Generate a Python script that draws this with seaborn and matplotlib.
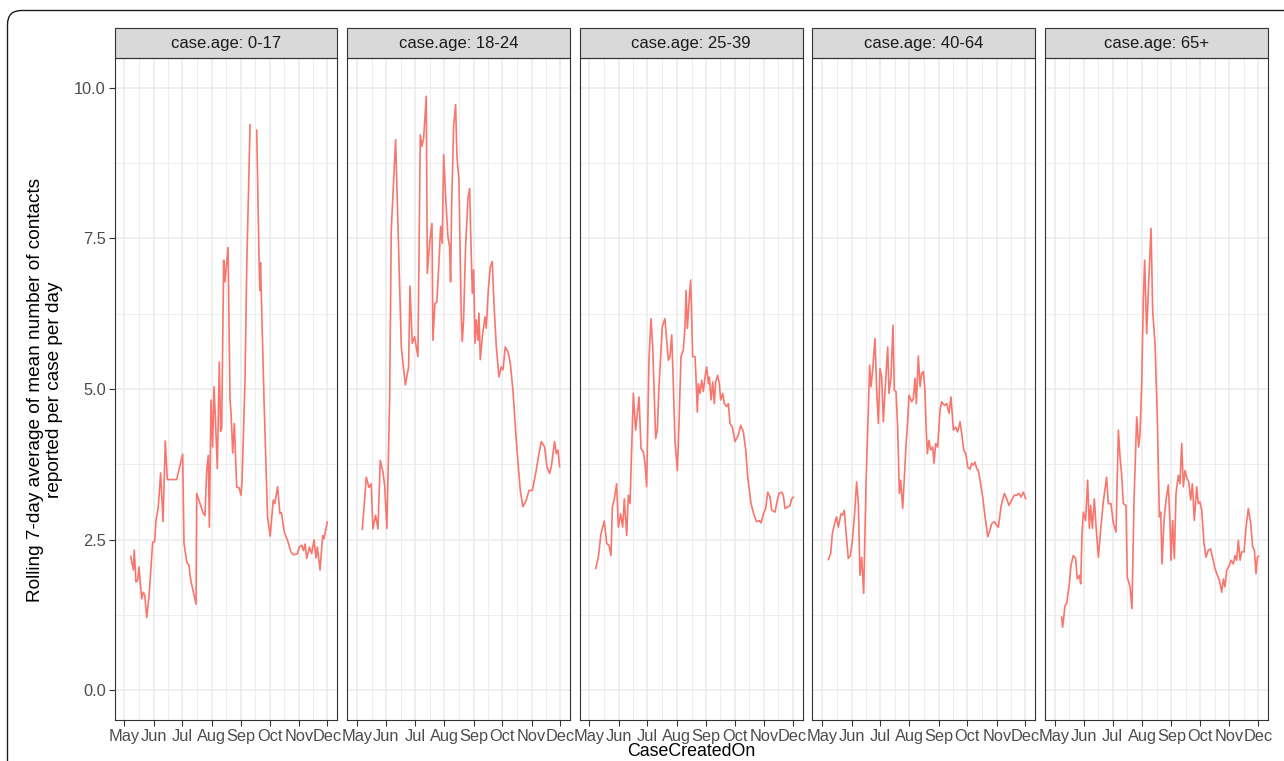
import matplotlib
matplotlib.use("Agg")
import matplotlib.pyplot as plt
import matplotlib.dates as mdates
from matplotlib.patches import Rectangle, FancyBboxPatch
from matplotlib.transforms import IdentityTransform
import numpy as np
import pandas as pd
import seaborn as sns

sns.set_theme(style="white")
plt.rcParams['font.family'] = ['Liberation Sans', 'DejaVu Sans']

# data: day offset from 1 May 2020 and rolling mean value
start = pd.Timestamp("2020-05-01")
groups = ["0-17", "18-24", "25-39", "40-64", "65+"]

days_0_17 = [6.7, 9.5, 10.5, 12.3, 14.1, 15.5, 18.3, 20.0, 21.6, 23.6, 26.0, 29.9, 32.0, 33.4,
             35.8, 38.3, 40.8, 43.2, 45.3, 55.2, 61.5, 62.9, 65.8, 68.0, 70.0, 75.6, 76.3, 83.2,
             85.0, 86.8, 88.5, 89.6, 91.4, 93.1, 94.5, 96.0, 98.0, 100.1, 101.5, 102.6, 104.7,
             106.0, 109.3, 111.4, 112.5, 114.2, 115.9, 118.4, 121.0, 123.0, 124.0, 127.2, 129.0,
             132.5, 136.0, 139.5, 142.0, 142.8, 143.5, 147.2, 150.9, 153.7, 156.9, 158.5, 161.5,
             163.9, 165.5, 168.5, 172.0, 175.5, 178.3, 182.5, 184.2, 187.0, 188.8, 190.5, 192.2,
             195.0, 197.4, 199.9, 202.0, 203.4, 206.2, 209.0, 210.4, 213.9]
vals_0_17 = [2.23, 2.00, 2.33, 1.80, 1.83, 2.05, 1.52, 1.63, 1.58, 1.21, 1.55, 2.46, 2.47, 2.82,
             3.05, 3.61, 2.80, 4.14, 3.50, 3.50, 3.92, 2.44, 2.13, 2.08, 1.83, 1.43, 3.27, 2.94,
             2.90, 3.65, 3.90, 2.71, 4.82, 4.04, 5.04, 4.50, 3.68, 5.45, 4.30, 4.35, 7.14,
             6.78, 7.35, 4.82, 4.60, 3.94, 4.43, 3.38, 3.36, 3.24, 3.45, 5.15, 7.03,
             9.39, np.nan, 9.30, 7.14, 6.64, 7.10, 4.82, 2.88, 2.56, 3.16, 3.10, 3.38,
             2.94, 2.95, 2.63, 2.49, 2.30, 2.25, 2.27, 2.38, 2.41, 2.32, 2.43, 2.19,
             2.38, 2.27, 2.50, 2.20, 2.38, 2.00, 2.57, 2.52, 2.80]

days_18_24 = [5.7, 9.9, 12.7, 15.1, 16.9, 19.7, 22.2, 24.6, 27.4, 29.2, 31.6, 34.5, 36.2, 40.8,
              46.8, 51.0, 54.5, 55.9, 58.3, 60.8, 64.3, 66.8, 68.5, 70.3, 73.1, 74.2, 76.6, 79.1,
              80.1, 82.2, 84.3, 87.1, 88.2, 89.9, 91.4, 93.5, 95.9, 97.7, 98.7, 99.8, 101.9,
              104.0, 105.4, 107.5, 110.0, 111.0, 112.4, 114.5, 117.0, 118.8, 119.8, 121.6, 123.0,
              124.4, 125.8, 127.5, 128.6, 130.0, 132.1, 134.9, 136.3, 138.4, 140.5, 142.6, 144.4,
              146.9, 149.7, 152.1, 153.9, 156.3, 159.2, 161.6, 164.4, 167.9, 172.1, 174.9, 178.5,
              181.3, 184.8, 188.3, 191.8, 194.3, 197.8, 200.2, 203.0, 204.8, 206.6, 208.3, 210.1,
              211.8, 213.6]
vals_18_24 = [2.67, 3.54, 3.37, 3.43, 2.68, 2.91, 2.68, 3.82, 3.63, 3.41, 2.69, 4.82, 7.64, 9.14,
              5.70, 5.07, 5.37, 6.71, 5.76, 5.87, 5.54, 9.22, 9.03, 9.16, 9.86, 6.92, 7.42, 7.75,
              5.81, 6.42, 6.45, 7.31, 7.70, 7.42, 8.89, 8.19, 7.53, 7.36, 6.78, 8.03, 9.36,
              9.72, 8.86, 8.47, 6.20, 5.79, 6.15, 7.36, 8.17, 8.33, 7.64, 6.59, 6.98,
              5.76, 6.15, 5.81, 6.26, 5.49, 5.87, 6.20, 6.01, 6.64, 7.03, 7.12, 6.42,
              5.70, 5.20, 5.37, 5.32, 5.70, 5.62, 5.43, 4.98, 4.15, 3.32, 3.05, 3.16,
              3.32, 3.32, 3.60, 3.93, 4.13, 4.04, 3.71, 3.60, 3.71, 3.93, 4.13, 3.93,
              3.99, 3.71]

days_25_39 = [6.5, 9.3, 12.1, 15.6, 18.1, 20.5, 22.7, 24.1, 26.2, 28.6, 30.4, 32.8, 35.0, 36.7,
              39.2, 40.9, 42.7, 46.2, 48.6, 50.4, 52.2, 54.3, 56.7, 58.5, 60.2, 62.7, 64.8, 66.6,
              68.3, 69.7, 71.5, 73.2, 76.7, 79.5, 81.3, 83.1, 84.8, 86.6, 88.3, 90.1, 92.6, 94.3,
              96.4, 98.9, 100.6, 101.7, 103.1, 105.2, 106.6, 107.7, 108.7, 111.2, 112.2, 113.6,
              114.7, 116.4, 118.2, 119.9, 121.7, 123.5, 125.2, 126.3, 128.0, 129.8, 131.5, 132.9,
              135.0, 136.8, 138.2, 140.3, 142.1, 144.5, 146.3, 148.0, 150.5, 153.3, 156.8, 159.3,
              162.1, 164.6, 166.7, 170.2, 173.3, 176.1, 178.9, 180.7, 183.2, 185.6, 187.7, 190.2,
              192.0, 195.5, 197.9, 199.7, 202.5, 204.2, 206.0, 209.5, 211.3, 213.0, 214.8]
vals_25_39 = [2.02, 2.21, 2.60, 2.81, 2.44, 2.41, 2.24, 3.05, 3.18, 3.43, 2.71, 2.93, 2.71, 3.18,
              2.57, 3.24, 3.10, 4.93, 4.32, 4.60, 4.87, 4.01, 3.96, 3.77, 3.38, 5.51, 6.17, 5.70,
              4.87, 4.18, 4.32, 5.04, 6.04, 6.17, 5.81, 5.48, 5.54, 5.90, 5.09, 4.13, 3.65, 4.43,
              5.54, 5.65, 6.04, 6.64, 6.01, 6.53, 6.81, 6.15, 5.54, 5.54, 5.20, 4.62,
              5.09, 4.93, 5.15, 4.96, 5.20, 5.37, 5.09, 5.20, 4.82, 5.12, 4.76, 5.12,
              5.23, 5.09, 4.82, 4.93, 4.76, 4.71, 4.76, 4.43, 4.37, 4.13, 4.24, 4.40,
              4.29, 3.99, 3.54, 3.10, 2.91, 2.80, 2.82, 2.78, 2.93, 3.02, 3.29, 3.21,
              2.99, 2.96, 3.16, 3.27, 3.29, 3.24, 3.02, 3.05, 3.07, 3.18, 3.21]

days_40_64 = [6.6, 9.0, 10.8, 13.6, 15.3, 17.1, 19.9, 21.7, 23.4, 24.8, 27.6, 29.8, 31.9, 34.0,
              36.4, 38.2, 39.9, 41.7, 43.8, 46.3, 48.7, 50.1, 51.5, 53.3, 55.7, 57.5, 59.3, 61.0,
              62.8, 64.5, 66.3, 69.1, 70.5, 72.6, 74.7, 76.1, 77.9, 79.6, 81.4, 82.8, 84.9, 86.7,
              88.4, 90.2, 91.6, 94.4, 96.1, 97.9, 99.3, 101.4, 103.2, 104.9, 106.7, 108.4, 109.5,
              110.9, 112.6, 114.4, 116.5, 117.9, 119.7, 121.8, 124.2, 126.0, 128.8, 131.3, 133.7,
              135.8, 138.3, 140.7, 142.8, 145.3, 147.1, 149.2, 151.3, 153.4, 155.9, 157.6, 159.4,
              161.1, 162.9, 164.6, 166.4, 169.2, 171.7, 174.5, 176.9, 178.7, 181.5, 184.0, 185.7,
              188.5, 192.0, 194.5, 196.9, 199.7, 202.5, 205.0, 207.5, 209.6, 212.1, 214.5]
vals_40_64 = [2.17, 2.27, 2.60, 2.80, 2.88, 2.71, 2.93, 2.91, 2.99, 2.71, 2.19, 2.24, 2.49, 2.88,
              3.46, 3.10, 1.91, 2.21, 1.61, 3.43, 4.65, 5.40, 5.04, 5.32, 5.84, 4.98, 4.43, 5.34,
              5.20, 4.46, 4.96, 5.70, 4.93, 5.20, 6.06, 4.98, 4.96, 4.37, 3.27, 3.49, 3.02, 3.54,
              4.07, 4.49, 4.90, 4.79, 4.84, 5.18, 4.76, 5.55, 5.04, 5.26, 5.29, 4.98, 4.40,
              3.93, 4.15, 3.99, 4.04, 3.77, 4.10, 4.04, 4.65, 4.79, 4.73, 4.76, 4.60,
              4.87, 4.32, 4.37, 4.29, 4.46, 4.26, 3.99, 3.93, 3.71, 3.67, 3.77, 3.74,
              3.79, 3.68, 3.65, 3.49, 3.21, 2.88, 2.55, 2.66, 2.77, 2.80, 2.74, 2.71,
              3.05, 3.27, 3.18, 3.07, 3.16, 3.24, 3.24, 3.27, 3.21, 3.29, 3.18]

days_65 = [7.3, 8.4, 10.9, 12.6, 15.4, 17.2, 19.6, 22.1, 23.8, 26.0, 27.4, 28.8, 30.2, 32.6,
           34.7, 36.5, 37.9, 39.7, 41.8, 43.5, 46.0, 48.4, 51.2, 54.7, 56.5, 59.3, 61.8, 64.6,
           67.1, 68.8, 70.6, 72.3, 75.1, 76.5, 79.3, 81.4, 83.6, 86.4, 88.5, 89.9, 91.6, 93.4,
           94.8, 96.9, 99.0, 101.5, 103.2, 105.7, 108.1, 110.3, 111.7, 113.1, 115.2, 117.3,
           119.7, 121.5, 122.5, 124.3, 126.1, 127.8, 130.3, 132.0, 133.8, 135.5, 137.3, 139.0,
           141.2, 143.3, 145.0, 147.1, 149.6, 151.3, 153.1, 154.9, 157.3, 159.4, 161.9, 164.3,
           166.5, 168.9, 171.4, 173.5, 176.0, 177.7, 179.4, 181.2, 184.0, 185.8, 188.2, 190.0,
           191.7, 193.5, 195.3, 197.0, 199.5, 201.6, 204.0, 206.5, 208.6, 210.4, 212.1, 213.5,
           215.0]
vals_65 = [1.22, 1.05, 1.41, 1.44, 1.77, 2.08, 2.24, 2.19, 1.85, 1.91, 1.77, 2.60, 2.96, 2.82,
           3.49, 2.69, 3.07, 2.69, 3.18, 2.74, 2.21, 2.66, 3.13, 3.54, 3.10, 3.10, 2.77, 2.63,
           4.32, 3.88, 3.57, 3.10, 3.07, 1.88, 1.72, 1.36, 3.16, 4.54, 4.04, 4.26, 5.04, 6.48,
           7.14, 5.92, 6.76, 7.67, 6.31, 5.76, 4.54, 2.88, 2.96, 2.10, 2.82, 3.16,
           3.41, 2.77, 2.16, 2.82, 2.19, 3.27, 3.57, 3.43, 4.10, 3.38, 3.65, 3.54,
           3.46, 3.16, 3.43, 2.82, 3.38, 3.10, 3.13, 2.99, 2.44, 2.21, 2.33, 2.35,
           2.19, 2.02, 1.91, 1.83, 1.63, 1.85, 1.72, 1.99, 2.08, 2.16, 2.10, 2.24,
           2.16, 2.49, 2.16, 2.30, 2.30, 2.71, 3.02, 2.77, 2.38, 2.33, 1.94, 2.21,
           2.23]

all_days = [days_0_17, days_18_24, days_25_39, days_40_64, days_65]
all_vals = [vals_0_17, vals_18_24, vals_25_39, vals_40_64, vals_65]

frames = []
for age, d, v in zip(groups, all_days, all_vals):
    df = pd.DataFrame({"day": d, "value": v})
    df["seg"] = df["value"].isna().cumsum()   # NaN = missing days -> break the line
    df = df.dropna()
    df["CaseCreatedOn"] = start + pd.to_timedelta(df["day"], unit="D")
    df["case.age"] = age
    frames.append(df)
data = pd.concat(frames, ignore_index=True)

# layout in pixels
W, H = 1284, 761
fig = plt.figure(figsize=(W / 100, H / 100), dpi=100)

def frac(l, t, w, h):
    return [l / W, 1 - (t + h) / H, w / W, h / H]

month_starts = pd.date_range("2020-05-01", "2020-12-01", freq="MS")
mids = [a + (b - a) / 2 for a, b in zip(month_starts[:-1], month_starts[1:])]
xlim = (start - pd.Timedelta(days=10.1), start + pd.Timedelta(days=224.4))

grid_col = "#EBEBEB"
dark = "#333333"
line_col = "#F8766D"
panel_h = 661.7
strip_h = 30

for i, age in enumerate(groups):
    ax = fig.add_axes(frac(114.7 + i * 232.6, 58.3, 222.6, panel_h))
    sub = data[data["case.age"] == age]
    sns.lineplot(data=sub, x="CaseCreatedOn", y="value", units="seg", estimator=None,
                 color=line_col, linewidth=1.2, ax=ax, legend=False)
    ax.set_xlim(xlim)
    ax.set_ylim(-0.49, 10.49)
    ax.set_xlabel("")
    ax.set_ylabel("")

    ax.set_xticks(month_starts)
    ax.set_xticks(mids, minor=True)
    ax.xaxis.set_major_formatter(mdates.DateFormatter("%b"))
    ax.set_yticks([0, 2.5, 5, 7.5, 10])
    ax.set_yticks([1.25, 3.75, 6.25, 8.75], minor=True)
    ax.set_yticklabels(["0.0", "2.5", "5.0", "7.5", "10.0"])

    ax.grid(which="major", color=grid_col, linewidth=1.1)
    ax.grid(which="minor", color=grid_col, linewidth=0.6)
    ax.set_axisbelow(True)

    ax.tick_params(axis="both", which="major", length=4, width=0.8, color=dark,
                   labelsize=11.8, labelcolor="#4D4D4D", pad=2.5)
    ax.tick_params(axis="both", which="minor", length=0)
    if i > 0:
        ax.tick_params(axis="y", which="both", left=False, labelleft=False)
    else:
        ax.tick_params(axis="y", left=True)
    ax.tick_params(axis="x", bottom=True)

    for s in ax.spines.values():
        s.set_color(dark)
        s.set_linewidth(0.8)

    # facet strip
    ax.add_patch(Rectangle((0, 1), 1, strip_h / panel_h, transform=ax.transAxes,
                           clip_on=False, facecolor="#D9D9D9", edgecolor=dark, linewidth=0.8))
    ax.text(0.5, 1 + strip_h / 2 / panel_h, f"case.age: {age}", transform=ax.transAxes,
            ha="center", va="center", fontsize=12, color="#1A1A1A")

fig.text(45 / W, 1 - 390 / H,
         "Rolling 7-day average of mean number of contacts\nreported per case per day",
         rotation=90, ha="center", va="center", multialignment="center",
         fontsize=13.7, color="black", linespacing=1.15)
fig.text(691 / W, 1 - 760.5 / H, "CaseCreatedOn", ha="center", va="bottom",
         fontsize=12.8, color="black")

# rounded outer frame, running off the right and bottom edges
frame = FancyBboxPatch((7.5, -120), 1400, 751 + 120 - 0.5,
                       boxstyle="round,pad=0,rounding_size=14",
                       transform=IdentityTransform(), fill=False,
                       edgecolor="#1A1A1A", linewidth=1.0)
fig.patches.append(frame)

fig.savefig("out.png", dpi=100)
